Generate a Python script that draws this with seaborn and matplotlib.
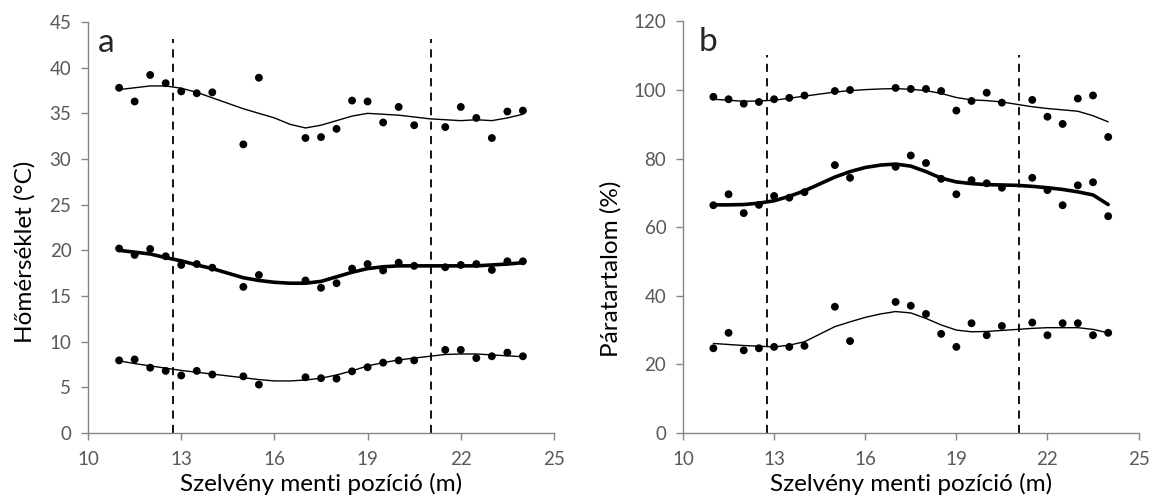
import numpy as np
import pandas as pd
import seaborn as sns
import matplotlib.pyplot as plt

# measurement positions along the transect (m)
pos = [11, 11.5, 12, 12.5, 13, 13.5, 14, 15, 15.5, 17, 17.5, 18, 18.5,
       19, 19.5, 20, 20.5, 21.5, 22, 22.5, 23, 23.5, 24]

# temperature (a)
t_max = [37.8, 36.3, 39.2, 38.3, 37.4, 37.2, 37.3, 31.6, 38.9, 32.3, 32.4, 33.3, 36.4,
         36.3, 34.0, 35.7, 33.7, 33.5, 35.7, 34.5, 32.3, 35.2, 35.3]
t_mean = [20.2, 19.5, 20.15, 19.35, 18.4, 18.5, 18.1, 16.0, 17.3, 16.7, 15.9, 16.4, 18.0,
          18.5, 17.8, 18.65, 18.3, 18.15, 18.4, 18.5, 17.85, 18.8, 18.8]
t_min = [7.95, 8.05, 7.15, 6.8, 6.3, 6.8, 6.4, 6.2, 5.3, 6.1, 6.0, 5.95, 6.75,
         7.2, 7.7, 7.95, 7.95, 9.1, 9.1, 8.2, 8.4, 8.8, 8.4]

# relative humidity (b)
h_max = [98.0, 97.3, 96.0, 96.5, 97.3, 97.7, 98.4, 99.7, 100.0, 100.6, 100.3, 100.3, 99.7,
         94.0, 96.8, 99.2, 96.3, 97.1, 92.2, 90.1, 97.5, 98.4, 86.3]
h_mean = [66.4, 69.6, 64.1, 66.5, 69.1, 68.6, 70.2, 78.1, 74.4, 77.6, 80.9, 78.7, 74.1,
          69.6, 73.7, 72.8, 71.5, 74.4, 70.8, 66.4, 72.2, 73.1, 63.2]
h_min = [24.7, 29.2, 24.1, 24.7, 25.1, 25.1, 25.4, 36.8, 26.8, 38.2, 37.1, 34.7, 28.9,
         25.1, 32.0, 28.5, 31.2, 32.2, 28.5, 32.0, 32.0, 28.5, 29.2]

# smoothed trend curves, every 0.5 m
curve_x = [11, 11.5, 12, 12.5, 13, 13.5, 14, 14.5, 15, 15.5, 16, 16.5, 17, 17.5,
           18, 18.5, 19, 19.5, 20, 20.5, 21, 21.5, 22, 22.5, 23, 23.5, 24]
t_max_fit = [37.6, 37.8, 38.0, 38.0, 37.75, 37.3, 36.7, 36.1, 35.5, 35.0, 34.5, 33.8, 33.4, 33.7,
             34.2, 34.7, 35.0, 34.9, 34.8, 34.6, 34.4, 34.3, 34.2, 34.3, 34.2, 34.5, 34.9]
t_mean_fit = [20.0, 19.8, 19.6, 19.2, 18.85, 18.4, 18.0, 17.5, 17.0, 16.7, 16.5, 16.4, 16.4, 16.6,
              17.1, 17.6, 18.0, 18.2, 18.3, 18.3, 18.3, 18.3, 18.3, 18.3, 18.4, 18.5, 18.65]
t_min_fit = [7.9, 7.6, 7.35, 7.1, 6.85, 6.65, 6.45, 6.25, 6.05, 5.85, 5.7, 5.7, 5.8, 6.0,
             6.35, 6.8, 7.35, 7.7, 8.0, 8.2, 8.4, 8.6, 8.65, 8.65, 8.55, 8.45, 8.35]
h_max_fit = [97.3, 97.0, 96.7, 96.8, 97.0, 97.6, 98.2, 98.8, 99.4, 99.8, 100.1, 100.3, 100.4, 100.2,
             99.8, 99.0, 97.8, 97.1, 96.9, 96.5, 95.8, 95.1, 94.6, 94.2, 93.8, 92.5, 90.7]
h_mean_fit = [66.5, 66.5, 66.6, 67.0, 67.7, 69.0, 70.6, 72.6, 74.6, 76.2, 77.4, 78.1, 78.4, 77.8,
              76.2, 74.3, 73.2, 72.7, 72.4, 72.3, 72.2, 71.9, 71.5, 71.0, 70.3, 69.4, 66.6]
h_min_fit = [26.1, 25.8, 25.5, 25.3, 25.1, 25.6, 26.6, 28.8, 31.0, 32.4, 33.7, 34.7, 35.4, 35.0,
             33.4, 31.5, 30.0, 29.5, 29.6, 29.9, 30.2, 30.5, 30.7, 30.7, 30.7, 30.2, 29.2]

zone_edges = [12.75, 21.05]

sns.set_style("white")
plt.rcParams['font.family'] = ['Lato', 'DejaVu Sans']

fig = plt.figure(figsize=(11.51, 4.97), dpi=100)
ax1 = fig.add_axes([0.0765, 0.1288, 0.4048, 0.8269])
ax2 = fig.add_axes([0.5934, 0.1288, 0.3958, 0.8282])

gray = '#868686'


def draw_panel(ax, points, fits, ylim, yticks, dash_top, ylabel, letter, letter_x):
    for (vals, fit, lw) in zip(points, fits, [1.0, 2.6, 1.0]):
        sns.lineplot(x=curve_x, y=fit, ax=ax, color='black', lw=lw)
        sns.scatterplot(x=pos, y=vals, ax=ax, color='black', s=32,
                        edgecolor='none', zorder=3)
    ax.vlines(zone_edges, 0, dash_top, colors='black', linestyles=(0, (4.5, 3.5)), lw=1.3)
    ax.set_xlim(10, 25)
    ax.set_ylim(*ylim)
    ax.set_xticks([10, 13, 16, 19, 22, 25])
    ax.set_yticks(yticks)
    for s in ['top', 'right']:
        ax.spines[s].set_visible(False)
    for s in ['left', 'bottom']:
        ax.spines[s].set_color(gray)
        ax.spines[s].set_linewidth(1.0)
    ax.tick_params(axis='both', direction='out', length=5, width=1, color=gray,
                   labelcolor='#595959', labelsize=13.5, bottom=True, left=True)
    ax.tick_params(axis='x', pad=8)
    ax.tick_params(axis='y', pad=7)
    ax.set_xlabel('Szelvény menti pozíció (m)', fontsize=17.5, color='black')
    ax.set_ylabel(ylabel, fontsize=17.5, color='black')
    ax.xaxis.set_label_coords(0.5, -0.098)
    ax.text(letter_x, 0.95, letter, transform=ax.transAxes, fontsize=24,
            ha='left', va='center')


draw_panel(ax1, [t_max, t_mean, t_min], [t_max_fit, t_mean_fit, t_min_fit],
           (0, 45), range(0, 46, 5), 43.1, 'Hőmérséklet (°C)', 'a', 0.022)
ax1.yaxis.set_label_coords(-0.112, 0.44)
draw_panel(ax2, [h_max, h_mean, h_min], [h_max_fit, h_mean_fit, h_min_fit],
           (0, 120), range(0, 121, 20), 110.2, 'Páratartalom (%)', 'b', 0.035)
ax2.yaxis.set_label_coords(-0.134, 0.40)

fig.savefig('out.png', dpi=100)
